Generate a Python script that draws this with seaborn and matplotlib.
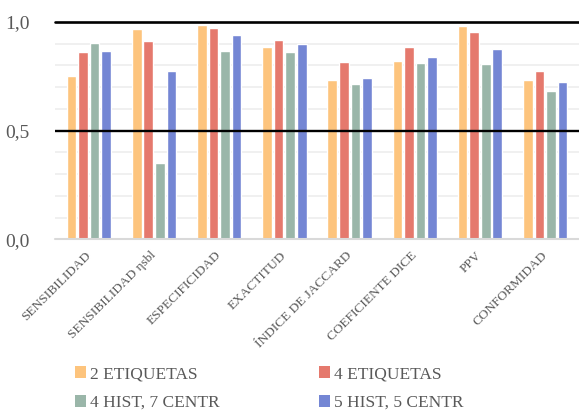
import matplotlib
matplotlib.use("Agg")
import matplotlib.pyplot as plt
from matplotlib.patches import Patch
from matplotlib.transforms import ScaledTranslation
import seaborn as sns
import pandas as pd

# Metric names along the x axis
categories = ["SENSIBILIDAD", "SENSIBILIDAD ηsbl", "ESPECIFICIDAD", "EXACTITUD",
              "ÍNDICE DE JACCARD", "COEFICIENTE DICE", "PPV", "CONFORMIDAD"]

# Scores per configuration
etiquetas_2 = [0.750, 0.969, 0.985, 0.886, 0.734, 0.822, 0.980, 0.734]
etiquetas_4 = [0.863, 0.914, 0.971, 0.916, 0.817, 0.886, 0.952, 0.773]
hist4_centr7 = [0.905, 0.353, 0.865, 0.860, 0.714, 0.811, 0.806, 0.685]
hist5_centr5 = [0.865, 0.777, 0.940, 0.897, 0.743, 0.837, 0.874, 0.723]

series_names = ["2 ETIQUETAS", "4 ETIQUETAS", "4 HIST, 7 CENTR", "5 HIST, 5 CENTR"]
series_values = [etiquetas_2, etiquetas_4, hist4_centr7, hist5_centr5]
colors = ["#FDC47D", "#E5796D", "#9AB6A9", "#7486D4"]

y_ticks = [0.0, 0.5, 1.0]
y_tick_labels = ["0,0", "0,5", "1,0"]

rows = []
for name, vals in zip(series_names, series_values):
    for cat, v in zip(categories, vals):
        rows.append({"metrica": cat, "serie": name, "valor": v})
df = pd.DataFrame(rows)

sns.set_theme(style="white")
plt.rcParams["font.family"] = ["Liberation Serif", "DejaVu Serif"]
text_color = "#595959"

fig = plt.figure(figsize=(5.79, 4.11), dpi=100)
ax = fig.add_axes([55 / 579, (411 - 239.5) / 411, 1 - 55 / 579, (239.5 - 22) / 411])

sns.barplot(data=df, x="metrica", y="valor", hue="serie", order=categories,
            hue_order=series_names, palette=colors, width=0.71, gap=0.17,
            saturation=1, legend=False, ax=ax, zorder=3)

# Light minor grid every 0.1, bold reference lines at 0.5 and 1.0
for yv in [0.1, 0.2, 0.3, 0.4, 0.6, 0.7, 0.8, 0.9]:
    ax.axhline(yv, color="#EDEDED", linewidth=1.2, zorder=1)
ax.axhline(0.0, color="#D9D9D9", linewidth=1.5, zorder=4, clip_on=False)
ax.axhline(0.5, color="black", linewidth=1.7, zorder=5)
ax.axhline(1.0, color="black", linewidth=1.9, zorder=5, clip_on=False)

ax.set_xlim(-0.52, len(categories) - 0.48)
ax.set_ylim(0, 1.0)
ax.set_yticks(y_ticks)
ax.set_yticklabels(y_tick_labels, fontsize=14, color=text_color)
ax.tick_params(axis="y", length=0, pad=18)
ax.tick_params(axis="x", length=0, pad=7)
ax.set_xticks(range(len(categories)))
ax.set_xticklabels(categories, rotation=45, ha="right", va="top",
                   rotation_mode="anchor", fontsize=9.6, color=text_color)
shift = ScaledTranslation(-4 / 100, 0, fig.dpi_scale_trans)
for lbl in ax.get_xticklabels():
    lbl.set_transform(lbl.get_transform() + shift)
ax.set_xlabel("")
ax.set_ylabel("")
for s in ax.spines.values():
    s.set_visible(False)

# Legend filled row by row: two columns
order = [0, 2, 1, 3]
handles = [Patch(facecolor=colors[i], edgecolor="none") for i in order]
labels = [series_names[i] for i in order]
fig.legend(handles, labels, ncol=2, loc="upper left",
           bbox_to_anchor=(75 / 579, 1 - 366 / 411), frameon=False,
           fontsize=12.5, labelcolor=text_color, handlelength=0.65,
           handleheight=0.65, handletextpad=0.2, columnspacing=5.75,
           labelspacing=0.75, borderaxespad=0, borderpad=0)

fig.savefig("out.png", dpi=100)
